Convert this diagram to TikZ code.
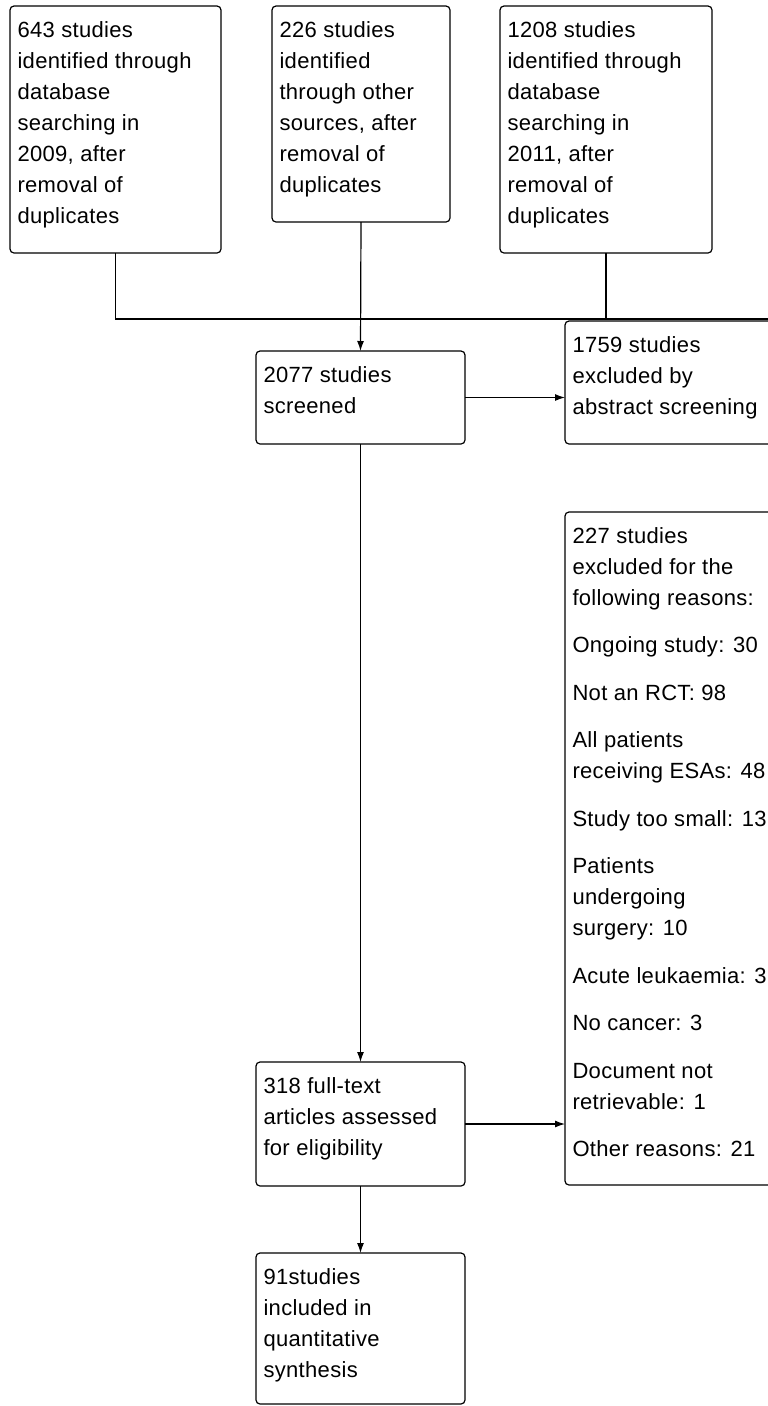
\documentclass[tikz,border=0pt]{standalone}
\usepackage{fontspec}
\setmainfont{Liberation Sans}[LetterSpace=1.5]
\usetikzlibrary{arrows.meta}
\tikzset{
  fbox/.style={draw=black, line width=1.2pt, rounded corners=4pt, anchor=north west,
    inner xsep=7.5pt, inner ysep=0pt, outer sep=0pt},
  conn/.style={draw=black, line width=1.2pt},
  arr/.style={conn, -{Latex[length=10pt,width=7pt]}},
}
\newcommand{\bx}[3]{\parbox[c][#2pt][t]{\dimexpr#1pt-15pt\relax}{\raggedright\fontsize{22pt}{31pt}\selectfont\rule{0pt}{31pt}#3}}
\begin{document}
\begin{tikzpicture}[x=1pt,y=-1pt]
\useasboundingbox (0,0) rectangle (768,1406);
\clip (0,0) rectangle (768,1406);
\node[fbox] (b1) at (10,6) {\bx{211}{247}{643 studies\\identified through\\database\\searching in\\2009, after\\removal of\\duplicates}};
\node[fbox] (b2) at (272,6) {\bx{178}{216}{226 studies\\identified\\through other\\sources, after\\removal of\\duplicates}};
\node[fbox] (b3) at (500,6) {\bx{212}{247}{1208 studies\\identified through\\database\\searching in\\2011, after\\removal of\\duplicates}};
\node[fbox] (s) at (256,351) {\bx{209}{93}{2077 studies\\screened}};
\node[fbox] (x1) at (565,321) {\bx{230}{123}{1759 studies\\excluded by\\abstract screening}};
\node[fbox] (f) at (256,1062) {\bx{209}{124}{318 full-text\\articles assessed\\for eligibility}};
\node[fbox] (x2) at (565,512) {\bx{230}{673}{227 studies\\excluded for the\\following reasons:\\[16.5pt]Ongoing study: 30\\[16.5pt]Not an RCT: 98\\[16.5pt]All patients\\receiving ESAs: 48\\[16.5pt]Study too small: 13\\[16.5pt]Patients\\undergoing\\surgery: 10\\[16.5pt]Acute leukaemia: 3\\[16.5pt]No cancer: 3\\[16.5pt]Document not\\retrievable: 1\\[16.5pt]Other reasons: 21}};
\node[fbox] (i) at (256,1253) {\bx{209}{151}{91studies\\included in\\quantitative\\synthesis}};
\coordinate (jr) at (768,319);
\draw[conn] (b1.south) |- (jr);
\draw[conn] (b3.south) -- (b3.south |- jr);
\draw[arr] (b2.south) -- (s.north);
\draw[arr] (s.east) -- (s.east -| x1.west);
\draw[arr] (s.south) -- (f.north);
\draw[arr] (f.east) -- (f.east -| x2.west);
\draw[arr] (f.south) -- (i.north);
\end{tikzpicture}
\end{document}
